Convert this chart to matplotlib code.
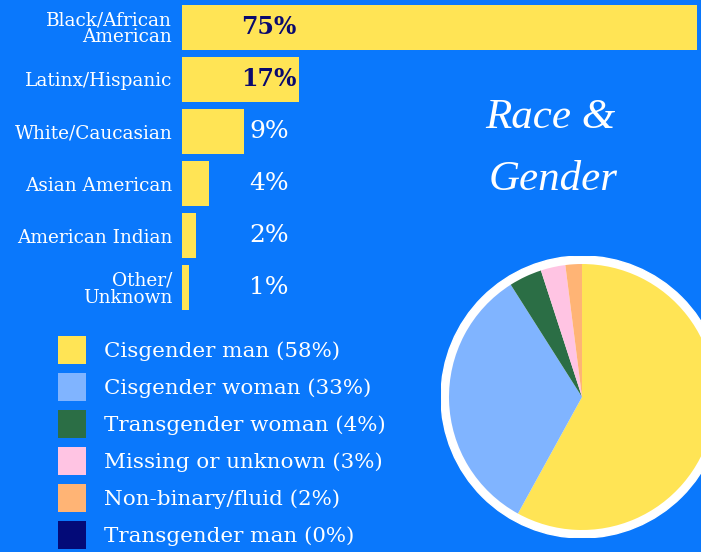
import matplotlib
matplotlib.use("Agg")
import matplotlib.pyplot as plt
from matplotlib.patches import Patch, Circle

# race breakdown (horizontal bars)
race_labels = ["Black/African\nAmerican", "Latinx/Hispanic", "White/Caucasian",
               "Asian American", "American Indian", "Other/\nUnknown"]
race_pct = [75, 17, 9, 4, 2, 1]

# gender breakdown (pie)
gender_labels = ["Cisgender man", "Cisgender woman", "Transgender woman",
                 "Missing or unknown", "Non-binary/fluid", "Transgender man"]
gender_pct = [58, 33, 4, 3, 2, 0]
gender_colors = ["#ffe455", "#80b4ff", "#2b6e45", "#ffc4e3", "#ffb475", "#030a78"]

BG = "#0a78fc"
YELLOW = "#ffe455"
NAVY = "#0a0a6e"
plt.rcParams["font.family"] = ["DejaVu Serif"]

W, H = 701, 552
fig = plt.figure(figsize=(W / 100, H / 100), dpi=100, facecolor=BG)

# --- bars ---
ax = fig.add_axes([182 / W, (H - 314) / H, (W - 182) / W, 313 / H])
ax.set_facecolor(BG)
ypos = list(range(len(race_pct)))
ax.barh(ypos, race_pct, height=0.865, color=YELLOW)
ax.set_xlim(0, (W - 182) / 6.87)
ax.set_ylim(len(race_pct) - 0.5, -0.5)
ax.set_yticks(ypos)
ax.set_yticklabels(race_labels, color="white", fontsize=13.3, linespacing=0.95)
ax.tick_params(axis="y", length=0, pad=7)
ax.set_xticks([])
for s in ax.spines.values():
    s.set_visible(False)

label_x = 12.7
for y, v in zip(ypos, race_pct):
    inside = v > label_x + 3
    ax.text(label_x, y, f"{v}%", ha="center", va="center",
            color=NAVY if inside else "white",
            fontsize=17 if inside else 18,
            fontweight="bold" if inside else "normal")

# --- title ---
fig.text(550 / W, 1 - 118 / H, "Race &", ha="center", va="center",
         color="white", fontsize=31, style="italic", family="Liberation Serif")
fig.text(553 / W, 1 - 180 / H, "Gender", ha="center", va="center",
         color="white", fontsize=31, style="italic", family="Liberation Serif")

# --- pie ---
r_out, r_in = 141, 133
pax = fig.add_axes([(582 - r_out) / W, (H - 397 - r_out) / H, 2 * r_out / W, 2 * r_out / H])
pax.set_facecolor("none")
ring = r_out / r_in
pax.add_patch(Circle((0, 0), ring, color="white", zorder=0))
pax.pie(gender_pct, colors=gender_colors, startangle=90, counterclock=False,
        radius=1, wedgeprops=dict(linewidth=0))
pax.set_xlim(-ring, ring)
pax.set_ylim(-ring, ring)
pax.set_aspect("equal")
pax.axis("off")

# --- legend ---
handles = [Patch(facecolor=c, edgecolor="none") for c in gender_colors]
texts = [f"{l} ({p}%)" for l, p in zip(gender_labels, gender_pct)]
fs = 15.4
fpx = fs / 0.72
hh = (28 / fpx - 0.245) / 0.65
fig.legend(handles, texts, loc="upper left", bbox_to_anchor=(58 / W, 1 - 336 / H),
           frameon=False, borderpad=0, borderaxespad=0, fontsize=fs,
           handlelength=28 / fpx, handleheight=hh, handletextpad=18 / fpx,
           labelspacing=9 / fpx, labelcolor="white")

fig.savefig("out.png", dpi=100, facecolor=BG)
